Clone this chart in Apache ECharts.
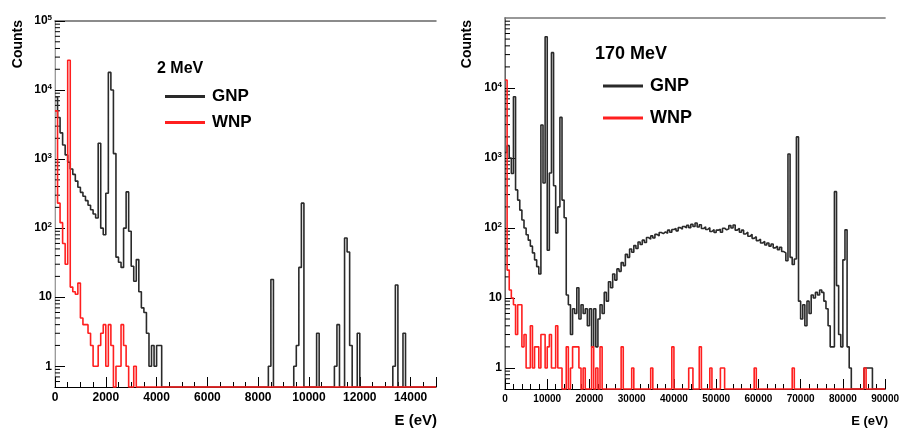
<!DOCTYPE html>
<html>
<head>
<meta charset="utf-8">
<script src="https://cdn.jsdelivr.net/npm/echarts@6/dist/echarts.min.js"></script>
<style>
  html, body { margin: 0; padding: 0; background: #ffffff; }
  #chart { width: 902px; height: 429px; }
</style>
</head>
<body>
<div id="chart"></div>
<script>
// ---- 2 MeV spectra: 100 eV bins from 0 to 15000 eV ----
const binWidth2MeV = 100;
const gnp2MeV = [
  8000, 4000, 2400, 1600, 1150, 900, 720, 600, 480, 390,
  330, 290, 250, 215, 185, 160, 140, 1700, 100, 80,
  320, 18000, 10000, 1200, 38, 32, 27, 100, 335, 90,
  28, 17, 35, 12, 7, 6, 3, 1, 2, 1,
  2, 2, 0, 0, 0, 0, 0, 0, 0, 0,
  0, 0, 0, 0, 0, 0, 0, 0, 0, 0,
  0, 0, 0, 0, 0, 0, 0, 0, 0, 0,
  0, 0, 0, 0, 0, 0, 0, 0, 0, 0,
  0, 0, 0, 0, 1, 18, 0, 0, 0, 0,
  0, 0, 0, 0, 1, 2, 27, 230, 0, 0,
  0, 0, 0, 3, 0, 0, 0, 0, 0, 0,
  1, 4, 0, 0, 72, 45, 2, 0, 0, 3,
  0, 0, 0, 0, 0, 0, 0, 0, 0, 0,
  0, 0, 0, 1, 15, 0, 0, 3, 0, 0,
  0, 0, 0, 0, 0, 0, 0, 0, 0, 0
];
const wnp2MeV = [
  5000, 230, 120, 60, 30, 27000, 14, 12, 11, 16,
  5, 4, 4, 3, 2, 1, 1, 2, 3, 4,
  1, 4, 2, 0, 1, 1, 4, 2, 1, 0,
  0, 1, 0, 0, 0, 0, 0, 0, 0, 0,
  0, 0, 0, 0, 0, 0, 0, 0, 0, 0,
  0, 0, 0, 0, 0, 0, 0, 0, 0, 0,
  0, 0, 0, 0, 0, 0, 0, 0, 0, 0,
  0, 0, 0, 0, 0, 0, 0, 0, 0, 0,
  0, 0, 0, 0, 0, 0, 0, 0, 0, 0,
  0, 0, 0, 0, 0, 0, 0, 0, 0, 0,
  0, 0, 0, 0, 0, 0, 0, 0, 0, 0,
  0, 0, 0, 0, 0, 0, 0, 0, 0, 0,
  0, 0, 0, 0, 0, 0, 0, 0, 0, 0,
  0, 0, 0, 0, 0, 0, 0, 0, 0, 0,
  0, 0, 0, 0, 0, 0, 0, 0, 0, 0
];

// ---- 170 MeV spectra: 500 eV bins from 0 to 90000 eV ----
const binWidth170MeV = 500;
const gnp170MeV = [
  1200, 1500, 1000, 600, 7500, 350, 250, 180, 130, 100,
  80, 67, 55, 44, 35, 28, 22, 2960, 440, 54000,
  48, 610, 32000, 400, 85, 200, 3800, 250, 140, 11,
  8, 3, 7, 6, 14, 5, 8, 6, 7, 4,
  7, 2, 7, 2, 5, 8, 6, 12, 9, 17,
  14, 22, 18, 26, 24, 32, 29, 42, 38, 50,
  45, 56, 51, 63, 58, 67, 62, 73, 69, 77,
  72, 81, 77, 86, 83, 88, 84, 93, 87, 95,
  98, 91, 101, 96, 105, 100, 109, 101, 113, 105,
  118, 103, 111, 98, 104, 95, 101, 89, 95, 86,
  93, 96, 87, 99, 94, 97, 108, 100, 110, 93,
  99, 87, 93, 82, 87, 76, 81, 71, 75, 66,
  69, 61, 64, 57, 61, 55, 59, 52, 55, 49,
  53, 46, 44, 34, 1140, 38, 30, 36, 2000, 9,
  5, 8, 4, 9, 6, 11, 10, 12, 11, 13,
  12, 9, 7, 4, 2, 2, 330, 15, 3, 2,
  35, 94, 2, 1, 0, 0, 0, 0, 0, 0,
  1, 1, 1, 1, 0, 0, 0, 0, 0, 0
];
const wnp170MeV = [
  13000, 25, 13, 10, 8, 3, 8, 8, 2, 3,
  1, 1, 4, 1, 2, 2, 1, 3, 3, 1,
  2, 3, 1, 1, 4, 1, 1, 0, 0, 2,
  0, 1, 2, 2, 2, 1, 0, 1, 0, 0,
  0, 2, 0, 1, 0, 2, 0, 0, 0, 0,
  0, 0, 0, 0, 0, 2, 0, 0, 0, 0,
  1, 0, 0, 0, 0, 0, 0, 0, 0, 1,
  0, 0, 0, 0, 0, 0, 0, 0, 0, 2,
  0, 0, 0, 0, 0, 0, 0, 1, 1, 0,
  0, 0, 2, 0, 0, 0, 0, 1, 0, 0,
  0, 0, 1, 1, 0, 0, 0, 0, 0, 0,
  0, 0, 0, 0, 0, 0, 0, 0, 1, 0,
  0, 0, 0, 0, 0, 0, 0, 0, 0, 0,
  0, 0, 0, 0, 0, 0, 1, 0, 0, 0,
  0, 0, 0, 0, 0, 0, 0, 0, 0, 0,
  0, 0, 0, 0, 0, 0, 0, 0, 0, 0,
  0, 0, 0, 0, 0, 0, 0, 0, 0, 0,
  1, 0, 0, 0, 0, 0, 0, 0, 0, 0
];

// Axis ranges and labels
const yRange = [0.5, 100000];
const xRange2MeV = [0, 15000];
const xRange170MeV = [0, 90000];
const xStep2MeV = 2000;
const xStep170MeV = 10000;
const panelTitles = ['2 MeV', '170 MeV'];
const seriesNames = ['GNP', 'WNP'];
const yTitle = 'Counts';
const xTitle = 'E (eV)';
const logMantissas = [2, 3, 4, 5, 6, 7, 8, 9];

const FONT = '"Liberation Sans", Arial, Helvetica, sans-serif';
const GNP_COLOR = '#2a2a2a';
const WNP_COLOR = '#ff1f1f';

// Histogram outline: one point per bin edge, empty bins sit on the axis floor
function histPoints(vals, w) {
  const floor = yRange[0];
  const pts = vals.map((v, i) => [i * w, v > 0 ? v : floor]);
  const last = vals[vals.length - 1];
  pts.push([vals.length * w, last > 0 ? last : floor]);
  return pts;
}

// Minor log ticks (2..9 x 10^k) that lie inside the y range
function minorLogValues() {
  const out = [];
  for (let k = -1; k <= 5; k++) {
    logMantissas.forEach(m => {
      const v = m * Math.pow(10, k);
      if (v > yRange[0] && v < yRange[1]) out.push(v);
    });
  }
  return out;
}

function decadeLabel(v) {
  const e = Math.round(Math.log10(v));
  if (e === 0) return '{b|1}';
  if (e === 1) return '{b|10}';
  return '{b|10}{s|' + e + '}';
}

const labelRich = {
  b: { fontSize: 12, fontWeight: 'bold', fontFamily: FONT, color: '#000', lineHeight: 14 },
  s: { fontSize: 8, fontWeight: 'bold', fontFamily: FONT, color: '#000', lineHeight: 14, verticalAlign: 'top' }
};

function xAxisMain(gridIndex, range, step, fontSize, minorSplit, showMax) {
  return {
    type: 'value', gridIndex, min: range[0], max: range[1], interval: step,
    position: 'bottom',
    axisLine: { show: true, lineStyle: { color: '#000', width: 1 } },
    axisTick: { show: true, inside: true, length: 10, lineStyle: { color: '#000', width: 1 } },
    minorTick: { show: true, splitNumber: minorSplit, length: 5, lineStyle: { color: '#000', width: 1 } },
    splitLine: { show: false },
    axisLabel: {
      show: true, margin: 5, fontSize, fontWeight: 'bold', fontFamily: FONT, color: '#000',
      showMaxLabel: showMax, formatter: v => String(v)
    }
  };
}

function xAxisFrame(gridIndex, range, color) {
  return {
    type: 'value', gridIndex, min: range[0], max: range[1], position: 'top',
    axisLine: { show: true, lineStyle: { color, width: 1.5 } },
    axisTick: { show: false }, axisLabel: { show: false }, splitLine: { show: false }
  };
}

function yAxisMain(gridIndex, showMax) {
  return {
    type: 'log', logBase: 10, gridIndex, min: yRange[0], max: yRange[1],
    position: 'left',
    axisLine: { show: true, lineStyle: { color: '#000', width: 1 } },
    axisTick: { show: true, inside: true, length: 10, lineStyle: { color: '#000', width: 1 } },
    splitLine: { show: false },
    axisLabel: {
      show: true, margin: 3, showMinLabel: false, showMaxLabel: showMax,
      formatter: decadeLabel, rich: labelRich
    }
  };
}

function yAxisFrame(gridIndex, color) {
  return {
    type: 'value', gridIndex, min: 0, max: 1, position: 'right',
    axisLine: { show: true, lineStyle: { color, width: 1.5 } },
    axisTick: { show: false }, axisLabel: { show: false }, splitLine: { show: false }
  };
}

function histSeries(name, vals, w, color, axisIdx) {
  return {
    type: 'line', name, step: 'end', data: histPoints(vals, w),
    xAxisIndex: axisIdx, yAxisIndex: axisIdx,
    showSymbol: false, symbol: 'none', clip: false,
    lineStyle: { color, width: 1.6 }, itemStyle: { color },
    emphasis: { disabled: true }, animation: false
  };
}

function minorTickSeries(axisIdx, xMin) {
  return {
    type: 'custom', xAxisIndex: axisIdx, yAxisIndex: axisIdx, silent: true, clip: false,
    data: minorLogValues().map(v => [xMin, v]),
    renderItem(params, api) {
      const p = api.coord([api.value(0), api.value(1)]);
      return {
        type: 'line',
        shape: { x1: p[0], y1: p[1], x2: p[0] + 5, y2: p[1] },
        style: { stroke: '#000', lineWidth: 1 }
      };
    },
    animation: false
  };
}

// Legend entries drawn as plain line keys
function legendFor(left, top, gap, fontSize) {
  return {
    left, top, orient: 'vertical', itemWidth: 40, itemHeight: 3, itemGap: gap,
    icon: 'rect', selectedMode: false, data: seriesNames,
    textStyle: { fontSize, fontWeight: 'bold', fontFamily: FONT, color: '#000', padding: [0, 0, 0, 2] }
  };
}

function text(x, y, str, size, align, rotation) {
  return {
    type: 'text', x, y, rotation: rotation || 0, silent: true,
    style: {
      text: str, fontSize: size, fontWeight: 'bold', fontFamily: FONT, fill: '#000',
      textAlign: align, textVerticalAlign: 'middle'
    }
  };
}

const chart = echarts.init(document.getElementById('chart'), null, { renderer: 'canvas' });

chart.setOption({
  animation: false,
  backgroundColor: '#ffffff',
  grid: [
    { left: 55, top: 21, width: 381, height: 366, show: false },
    { left: 505, top: 18, width: 383, height: 371, show: false }
  ],
  xAxis: [
    xAxisMain(0, xRange2MeV, xStep2MeV, 12, 4, false),
    xAxisFrame(0, xRange2MeV, '#666'),
    xAxisMain(1, xRange170MeV, xStep170MeV, 10, 5, true),
    xAxisFrame(1, xRange170MeV, '#777')
  ],
  yAxis: [
    yAxisMain(0, true),
    yAxisFrame(0, '#cfcfcf'),
    yAxisMain(1, false),
    yAxisFrame(1, '#888')
  ],
  legend: [
    legendFor(160, 83, 9, 17),
    legendFor(598, 72, 14, 18)
  ],
  series: [
    histSeries(seriesNames[0], gnp2MeV, binWidth2MeV, GNP_COLOR, 0),
    histSeries(seriesNames[1], wnp2MeV, binWidth2MeV, WNP_COLOR, 0),
    minorTickSeries(0, xRange2MeV[0]),
    histSeries(seriesNames[0], gnp170MeV, binWidth170MeV, GNP_COLOR, 2),
    histSeries(seriesNames[1], wnp170MeV, binWidth170MeV, WNP_COLOR, 2),
    minorTickSeries(2, xRange170MeV[0])
  ],
  graphic: [
    text(157, 69, panelTitles[0], 16, 'left'),
    text(595, 54, panelTitles[1], 18, 'left'),
    text(18, 20, yTitle, 14, 'right', Math.PI / 2),
    text(467, 20, yTitle, 14, 'right', Math.PI / 2),
    text(437, 421, xTitle, 15, 'right'),
    text(888, 421, xTitle, 13, 'right')
  ]
});
</script>
</body>
</html>
